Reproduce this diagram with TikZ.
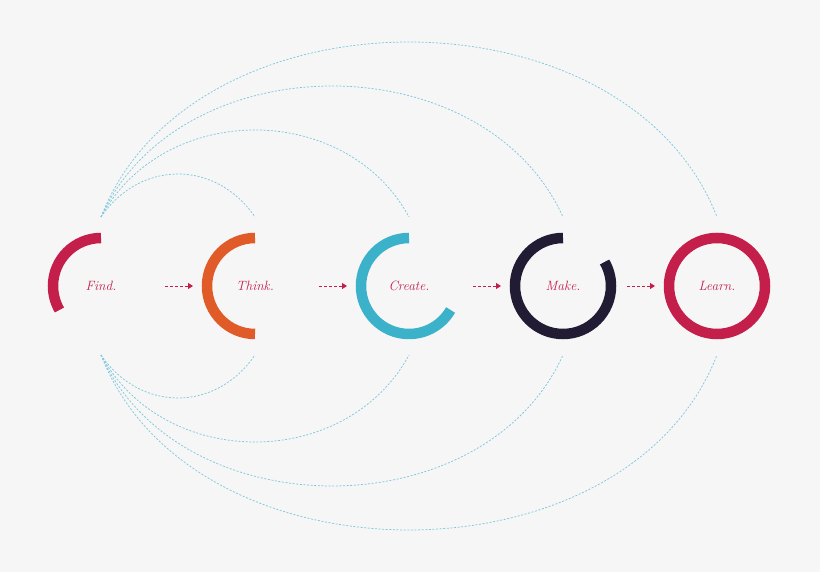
\documentclass[tikz,border=0pt]{standalone}
\usepackage{tikz}
\usetikzlibrary{arrows.meta,calc}

\definecolor{crimson}{HTML}{C41E4A}
\definecolor{tangerine}{HTML}{E15B29}
\definecolor{lagoon}{HTML}{3BB1CA}
\definecolor{ink}{HTML}{211C34}
\definecolor{linkblue}{HTML}{80C9DD}
\definecolor{paper}{HTML}{F6F6F6}

\begin{document}
\begin{tikzpicture}[x=1bp,y=1bp,
  stage/.style={circle,minimum size=106bp,inner sep=0pt,outer sep=0pt,
    text=crimson,font=\itshape\fontsize{13.5}{15}\selectfont},
  ring/.style={line width=10.5bp,line cap=butt},
  flow/.style={crimson,line width=0.8bp,dash pattern=on 3bp off 2bp,
    -{Triangle[length=5bp,width=6bp]},shorten <=11bp,shorten >=9bp},
  link/.style={linkblue,line width=0.75bp,dash pattern=on 2bp off 1.6bp}]
\useasboundingbox (0,0) rectangle (820,572);
\fill[paper] (0,0) rectangle (820,572);

\node[stage] (find)   at (101,286) {Find.};
\node[stage] (think)  at (255,286) {Think.};
\node[stage] (create) at (409,286) {Create.};
\node[stage] (make)   at (563,286) {Make.};
\node[stage] (learn)  at (717,286) {Learn.};

% the rings grow by a third of a turn each step
\draw[ring,crimson]   ($(find.center)+(90:48bp)$)   arc[start angle=90,end angle=210,radius=48bp];
\draw[ring,tangerine] ($(think.center)+(90:48bp)$)  arc[start angle=90,end angle=270,radius=48bp];
\draw[ring,lagoon]    ($(create.center)+(90:48bp)$) arc[start angle=90,end angle=330,radius=48bp];
\draw[ring,ink]       ($(make.center)+(90:48bp)$)   arc[start angle=90,end angle=390,radius=48bp];
\draw[ring,crimson]   (learn.center) circle[radius=48bp];

\draw[flow] (find)   -- (think);
\draw[flow] (think)  -- (create);
\draw[flow] (create) -- (make);
\draw[flow] (make)   -- (learn);

\foreach \name in {find,think,create,make,learn}{
  \coordinate (\name-up) at ([yshift=16bp]\name.north);
  \coordinate (\name-dn) at ([yshift=-16bp]\name.south);
}

% half ellipses from Find to every later stage
\foreach \dst/\n/\b in {think/1/112,create/2/156,make/3/200,learn/4/244}{
  \pgfmathsetmacro\t{asin(69/\b)}
  \pgfmathsetmacro\a{77*\n/cos(\t)}
  \pgfmathsetmacro\k{4/3*tan((180-2*\t)/4)}
  \pgfmathsetmacro\cx{\a*\k*sin(\t)}
  \pgfmathsetmacro\cy{\b*\k*cos(\t)}
  \draw[link] (find-up) .. controls +(\cx,\cy) and +(-\cx,\cy) .. (\dst-up);
  \draw[link] (find-dn) .. controls +(\cx,-\cy) and +(-\cx,-\cy) .. (\dst-dn);
}
\end{tikzpicture}
\end{document}
